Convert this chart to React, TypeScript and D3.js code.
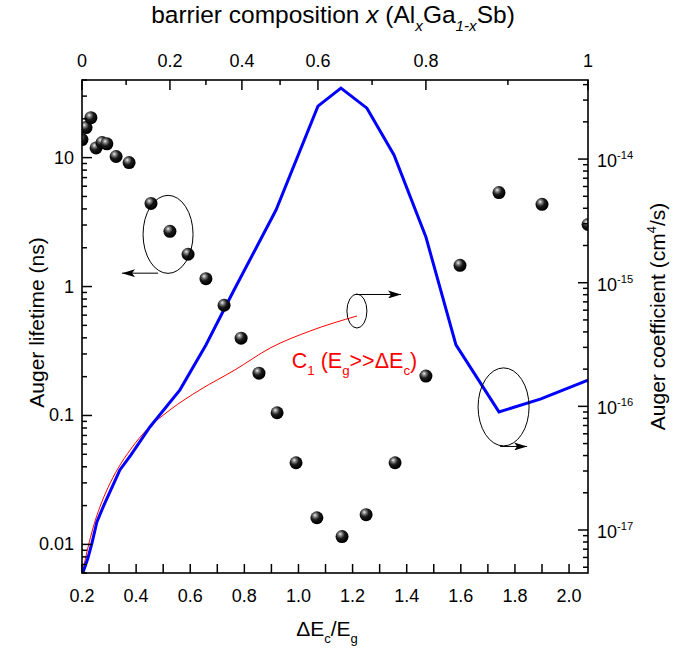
import React, { useEffect, useRef } from "react";
import * as d3 from "d3";

// bottom axis (ΔEc/Eg)
const ratioTicks = [0.2, 0.3, 0.4, 0.5, 0.6, 0.7, 0.8, 0.9, 1.0, 1.1, 1.2, 1.3, 1.4, 1.5, 1.6, 1.7, 1.8, 1.9, 2.0];
const ratioLabels = ["0.2", "0.4", "0.6", "0.8", "1.0", "1.2", "1.4", "1.6", "1.8", "2.0"];

// top axis: composition x and where it sits on the ΔEc/Eg axis
const compTicks = [0, 0.1, 0.2, 0.3, 0.4, 0.5, 0.6, 0.7, 0.8, 0.9, 1];
const compTickRatio = [0.2, 0.363, 0.525, 0.658, 0.791, 0.932, 1.072, 1.272, 1.471, 1.774, 2.07];
const compLabels = ["0", "", "0.2", "", "0.4", "", "0.6", "", "0.8", "", "1"];

// left axis
const lifeMajor = [0.01, 0.1, 1, 10];
const lifeLabels = ["0.01", "0.1", "1", "10"];
// right axis
const coefMajor = [1e-17, 1e-16, 1e-15, 1e-14];
const coefExp = ["-17", "-16", "-15", "-14"];

// measured Auger lifetime (ns), left axis
const dotRatio = [0.2, 0.215, 0.233, 0.252, 0.274, 0.292, 0.326, 0.374, 0.455, 0.525, 0.592, 0.658, 0.725, 0.788, 0.854, 0.921, 0.991, 1.068, 1.161, 1.25, 1.357, 1.471, 1.597, 1.741, 1.9, 2.07];
const dotLife = [13.8, 17.1, 20.4, 11.9, 13.1, 12.8, 10.2, 9.15, 4.41, 2.68, 1.78, 1.15, 0.716, 0.398, 0.213, 0.105, 0.043, 0.0161, 0.0115, 0.017, 0.043, 0.202, 1.46, 5.36, 4.34, 3.03];

// Auger coefficient (blue), right axis
const blueRatio = [0.2, 0.222, 0.237, 0.255, 0.281, 0.315, 0.34, 0.381, 0.451, 0.562, 0.658, 0.758, 0.917, 1.072, 1.157, 1.253, 1.353, 1.471, 1.582, 1.741, 1.896, 2.07];
const blueCoef = [4.3e-18, 5.94e-18, 7.86e-18, 1.16e-17, 1.59e-17, 2.32e-17, 3.06e-17, 4.05e-17, 6.81e-17, 1.36e-16, 3.14e-16, 8.41e-16, 3.87e-15, 2.68e-14, 3.75e-14, 2.58e-14, 1.08e-14, 2.34e-15, 3.14e-16, 9.02e-17, 1.15e-16, 1.63e-16];

// C1 (Eg >> ΔEc) (red), right axis
const redRatio = [0.2, 0.213, 0.227, 0.244, 0.266, 0.296, 0.333, 0.38, 0.44, 0.525, 0.636, 0.765, 0.895, 1.043, 1.216];
const redCoef = [4.3e-18, 5.9e-18, 8.0e-18, 1.1e-17, 1.53e-17, 2.2e-17, 3.15e-17, 4.5e-17, 6.5e-17, 9.35e-17, 1.36e-16, 1.97e-16, 2.96e-16, 4.07e-16, 5.38e-16];

const W = 686;
const H = 651;
const margin = { top: 80, right: 98, bottom: 78, left: 82 };
const FONT = "'Liberation Sans', Arial, sans-serif";

type Part = { t: string; s?: "sub" | "sup"; i?: boolean };

function rich(sel: any, parts: Part[], fs: number) {
  let shift = 0;
  parts.forEach((p) => {
    const target = p.s === "sub" ? fs * 0.32 : p.s === "sup" ? -fs * 0.45 : 0;
    sel
      .append("tspan")
      .attr("dy", target - shift)
      .attr("font-size", p.s ? fs * 0.62 : fs)
      .attr("font-style", p.i ? "italic" : null)
      .text(p.t);
    shift = target;
  });
}

export default function App() {
  const svgRef = useRef<SVGSVGElement>(null);

  useEffect(() => {
    const iw = W - margin.left - margin.right;
    const ih = H - margin.top - margin.bottom;
    const svg = d3.select(svgRef.current).attr("width", W).attr("height", H);
    svg.selectAll("*").remove();

    const x = d3.scaleLinear().domain([0.2, 2.07]).range([0, iw]);
    const yL = d3.scaleLog().domain([0.006, 40]).range([ih, 0]);
    const yR = d3.scaleLog().domain([4.49e-18, 4.36e-14]).range([ih, 0]);

    const defs = svg.append("defs");
    const grad = defs
      .append("radialGradient")
      .attr("id", "ball")
      .attr("cx", "38%")
      .attr("cy", "35%")
      .attr("r", "60%")
      .attr("fx", "36%")
      .attr("fy", "30%");
    grad.append("stop").attr("offset", "0%").attr("stop-color", "#f2f2f2");
    grad.append("stop").attr("offset", "22%").attr("stop-color", "#8a8a8a");
    grad.append("stop").attr("offset", "55%").attr("stop-color", "#1c1c1c");
    grad.append("stop").attr("offset", "100%").attr("stop-color", "#000");
    defs
      .append("clipPath")
      .attr("id", "plot")
      .append("rect")
      .attr("width", iw)
      .attr("height", ih);
    defs
      .append("marker")
      .attr("id", "arrow")
      .attr("markerUnits", "userSpaceOnUse")
      .attr("markerWidth", 14)
      .attr("markerHeight", 8)
      .attr("refX", 13)
      .attr("refY", 4)
      .attr("orient", "auto")
      .append("path")
      .attr("d", "M0,0 L13,4 L0,8 L3,4 Z")
      .attr("fill", "#000");

    const g = svg.append("g").attr("transform", `translate(${margin.left},${margin.top})`);
    const plot = g.append("g").attr("clip-path", "url(#plot)");

    // red curve
    const redLine = d3
      .line<number>()
      .x((_, i) => x(redRatio[i]))
      .y((d) => yR(d))
      .curve(d3.curveMonotoneX);
    plot.append("path").attr("d", redLine(redCoef)).attr("fill", "none").attr("stroke", "#ff0000").attr("stroke-width", 1);

    // blue line
    const blueLine = d3
      .line<number>()
      .x((_, i) => x(blueRatio[i]))
      .y((d) => yR(d));
    plot.append("path").attr("d", blueLine(blueCoef)).attr("fill", "none").attr("stroke", "#0000ff").attr("stroke-width", 3);

    // dots
    plot
      .selectAll("circle.dot")
      .data(dotLife)
      .enter()
      .append("circle")
      .attr("class", "dot")
      .attr("cx", (_, i) => x(dotRatio[i]))
      .attr("cy", (d) => yL(d))
      .attr("r", 6.5)
      .attr("fill", "url(#ball)");

    // annotations: ellipses + arrows
    const ann = g.append("g").attr("fill", "none").attr("stroke", "#000").attr("stroke-width", 1);
    ann.append("ellipse").attr("cx", x(0.518)).attr("cy", yL(2.54)).attr("rx", 25).attr("ry", 39);
    ann.append("line").attr("x1", x(0.481)).attr("x2", x(0.348)).attr("y1", yL(1.27)).attr("y2", yL(1.27)).attr("marker-end", "url(#arrow)");
    ann.append("ellipse").attr("cx", x(1.216)).attr("cy", yR(5.9e-16)).attr("rx", 10).attr("ry", 17);
    ann.append("line").attr("x1", x(1.213)).attr("x2", x(1.379)).attr("y1", yR(8.03e-16)).attr("y2", yR(8.03e-16)).attr("marker-end", "url(#arrow)");
    ann.append("ellipse").attr("cx", x(1.758)).attr("cy", yR(9.9e-17)).attr("rx", 25.5).attr("ry", 39);
    ann.append("line").attr("x1", x(1.745)).attr("x2", x(1.845)).attr("y1", yR(4.74e-17)).attr("y2", yR(4.74e-17)).attr("marker-end", "url(#arrow)");

    // red label
    const lbl = g
      .append("text")
      .attr("x", x(0.975))
      .attr("y", yR(2.05e-16))
      .attr("fill", "#ff0000")
      .attr("font-family", FONT);
    rich(
      lbl,
      [{ t: "C" }, { t: "1", s: "sub" }, { t: " (E" }, { t: "g", s: "sub" }, { t: ">>ΔE" }, { t: "c", s: "sub" }, { t: ")" }],
      21.5
    );

    // frame
    g.append("rect").attr("width", iw).attr("height", ih).attr("fill", "none").attr("stroke", "#000").attr("stroke-width", 1.6);

    const ticks = g.append("g").attr("stroke", "#000").attr("stroke-width", 1.5);
    // bottom ticks
    ratioTicks.forEach((t) => {
      ticks.append("line").attr("x1", x(t)).attr("x2", x(t)).attr("y1", ih).attr("y2", ih - 9);
    });
    // top ticks
    compTicks.forEach((_, i) => {
      const len = i % 2 === 0 ? 10 : 5;
      const px = x(compTickRatio[i]);
      ticks.append("line").attr("x1", px).attr("x2", px).attr("y1", 0).attr("y2", len);
    });
    // left ticks
    yL.ticks().forEach((t) => {
      const major = lifeMajor.some((m) => Math.abs(m - t) / m < 1e-6);
      ticks.append("line").attr("x1", 0).attr("x2", major ? 10 : 5).attr("y1", yL(t)).attr("y2", yL(t));
    });
    // right ticks
    yR.ticks().forEach((t) => {
      const major = coefMajor.some((m) => Math.abs(m - t) / m < 1e-6);
      ticks.append("line").attr("x1", iw).attr("x2", iw - (major ? 10 : 5)).attr("y1", yR(t)).attr("y2", yR(t));
    });

    const txt = g.append("g").attr("font-family", FONT).attr("fill", "#000");
    ratioLabels.forEach((l) => {
      txt.append("text").attr("x", x(+l)).attr("y", ih + 29).attr("text-anchor", "middle").attr("font-size", 18).text(l);
    });
    compLabels.forEach((l, i) => {
      if (!l) return;
      txt.append("text").attr("x", x(compTickRatio[i])).attr("y", -13).attr("text-anchor", "middle").attr("font-size", 18).text(l);
    });
    lifeLabels.forEach((l, i) => {
      txt.append("text").attr("x", -8).attr("y", yL(lifeMajor[i]) + 6).attr("text-anchor", "end").attr("font-size", 18).text(l);
    });
    coefMajor.forEach((m, i) => {
      const t = txt.append("text").attr("x", iw + 9).attr("y", yR(m) + 8);
      rich(t, [{ t: "10" }, { t: coefExp[i], s: "sup" }], 18);
    });

    // axis titles
    const top = txt.append("text").attr("x", iw / 2 - 2).attr("y", -57).attr("text-anchor", "middle");
    rich(
      top,
      [
        { t: "barrier composition " },
        { t: "x", i: true },
        { t: " (Al" },
        { t: "x", s: "sub", i: true },
        { t: "Ga" },
        { t: "1-x", s: "sub", i: true },
        { t: "Sb)" },
      ],
      24.5
    );
    const bottom = txt.append("text").attr("x", iw / 2 - 8).attr("y", ih + 63).attr("text-anchor", "middle");
    rich(bottom, [{ t: "ΔE" }, { t: "c", s: "sub" }, { t: "/E" }, { t: "g", s: "sub" }], 21);

    txt
      .append("text")
      .attr("transform", `translate(${-38},${ih / 2 - 4}) rotate(-90)`)
      .attr("text-anchor", "middle")
      .attr("font-size", 21)
      .text("Auger lifetime (ns)");
    const right = txt
      .append("text")
      .attr("transform", `translate(${iw + 77},${ih / 2 - 10}) rotate(-90)`)
      .attr("text-anchor", "middle");
    rich(right, [{ t: "Auger coefficient (cm" }, { t: "4", s: "sup" }, { t: "/s)" }], 21);
  }, []);

  return <svg ref={svgRef} style={{ position: "absolute", left: 0, top: 0 }}></svg>;
}
